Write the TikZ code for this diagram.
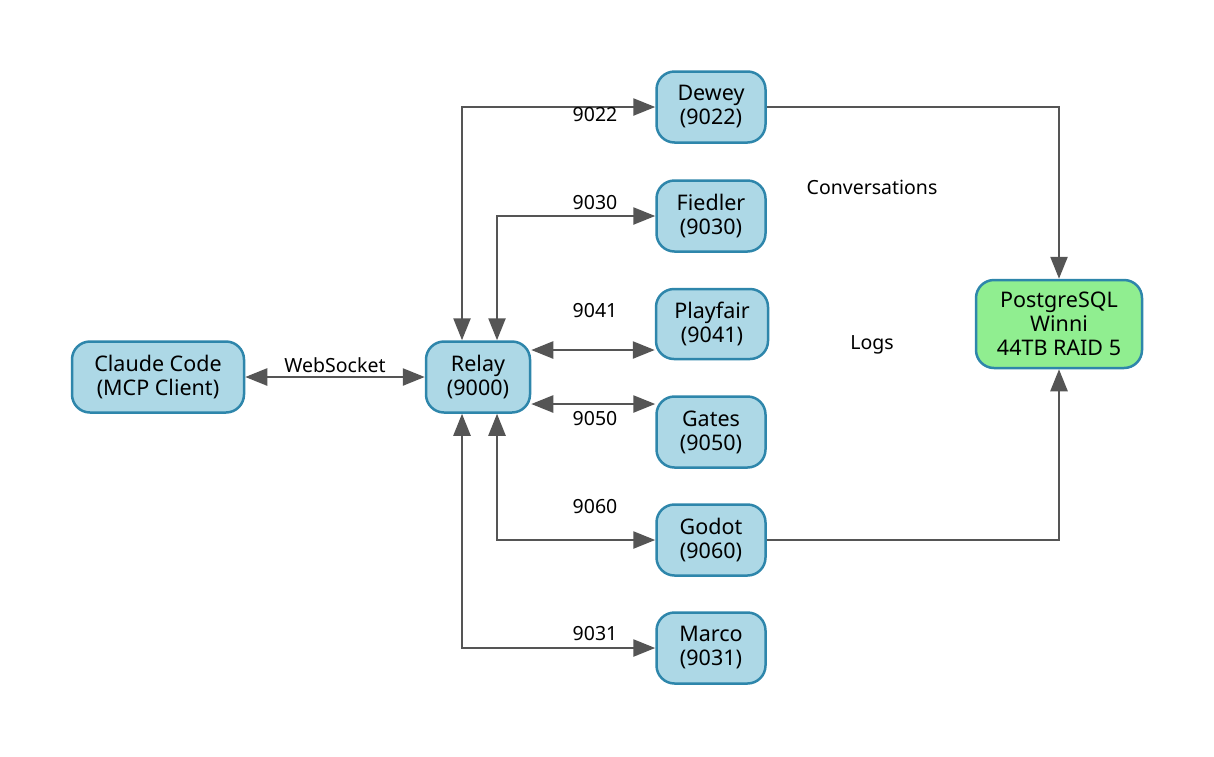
\documentclass[tikz,border=0pt]{standalone}
\usepackage{fontspec}
\setmainfont{Noto Sans}
\usetikzlibrary{arrows.meta}
\definecolor{nodefill}{HTML}{ADD8E6}
\definecolor{nodeline}{HTML}{2E86AB}
\definecolor{dbfill}{HTML}{90EE90}
\definecolor{edgecol}{HTML}{555555}
\tikzset{
  svc/.style={draw=nodeline, fill=nodefill, line width=2.5pt, rounded corners=18pt,
    align=center, font=\fontsize{21.5}{24}\selectfont, inner sep=0pt,
    minimum width=109pt, minimum height=71pt},
  db/.style={svc, fill=dbfill},
  conn/.style={draw=edgecol, line width=2.5pt, {Triangle[length=22pt,width=17pt]}-{Triangle[length=22pt,width=17pt]}},
  oneway/.style={draw=edgecol, line width=2.5pt, -{Triangle[length=22pt,width=17pt]}},
  lbl/.style={font=\fontsize{19.5}{22}\selectfont, inner sep=0pt}
}
\begin{document}
\begin{tikzpicture}[x=1pt,y=-1pt]
\useasboundingbox (0,0) rectangle (1214,756);
\node[svc, minimum width=172pt] (claude) at (158,377) {Claude Code\\(MCP Client)};
\node[svc, minimum width=104pt] (relay) at (478,377) {Relay\\(9000)};
\node[svc] (dewey) at (711,107) {Dewey\\(9022)};
\node[svc] (fiedler) at (711,216) {Fiedler\\(9030)};
\node[svc, minimum width=112pt, minimum height=70pt] (playfair) at (712,324) {Playfair\\(9041)};
\node[svc] (gates) at (711,432) {Gates\\(9050)};
\node[svc] (godot) at (711,540) {Godot\\(9060)};
\node[svc] (marco) at (711,648) {Marco\\(9031)};
\node[db, minimum width=166pt, minimum height=88pt] (pg) at (1059,324) {PostgreSQL\\Winni\\44TB RAID 5};

\draw[conn] (claude.east) -- (relay.west);
\draw[conn] ([xshift=-16pt]relay.north) |- (dewey.west);
\draw[conn] ([xshift=19pt]relay.north) |- (fiedler.west);
\draw[conn] ([yshift=27pt]relay.east) -- ([yshift=27pt]relay.east -| playfair.west);
\draw[conn] ([yshift=-27pt]relay.east) -- ([yshift=-27pt]relay.east -| gates.west);
\draw[conn] ([xshift=19pt]relay.south) |- (godot.west);
\draw[conn] ([xshift=-16pt]relay.south) |- (marco.west);
\draw[oneway] (dewey.east) -| (pg.north);
\draw[oneway] (godot.east) -| (pg.south);

\node[lbl] (lws) at (335,365) {WebSocket};
\node[lbl] (l9022) at (595,115) {9022};
\node[lbl] (l9030) at (595,203) {9030};
\node[lbl] (l9041) at (595,311) {9041};
\node[lbl] (l9050) at (595,419) {9050};
\node[lbl] (l9060) at (595,507) {9060};
\node[lbl] (l9031) at (595,634) {9031};
\node[lbl] (lconv) at (872,187) {Conversations};
\node[lbl] (llogs) at (872,345) {Logs};
\end{tikzpicture}
\end{document}
